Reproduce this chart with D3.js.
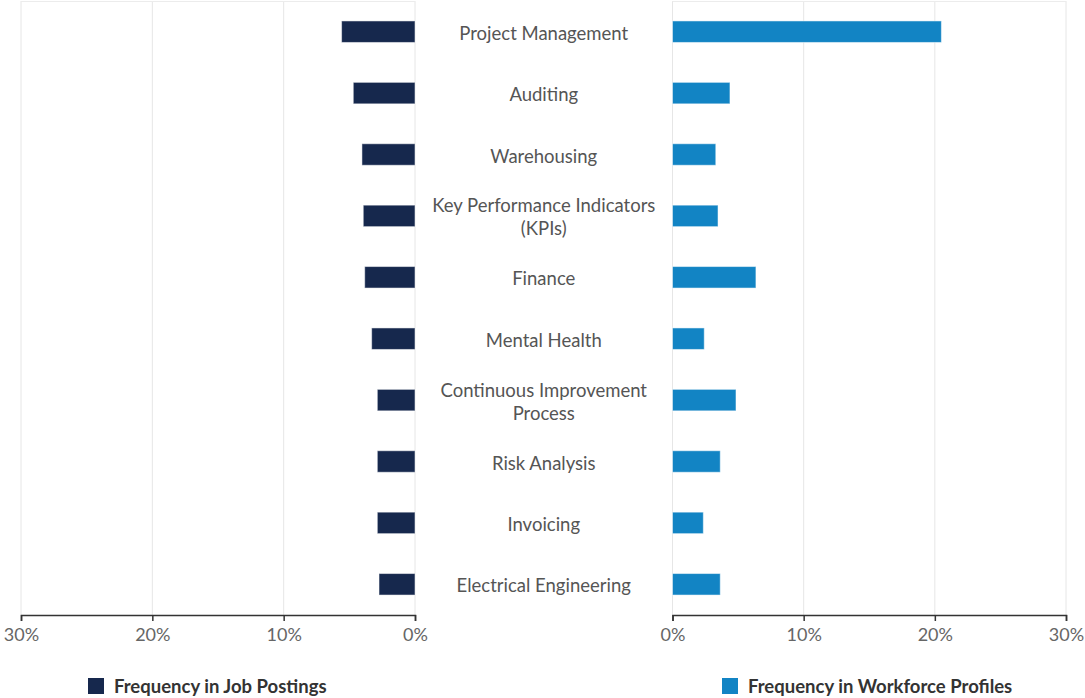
<!DOCTYPE html>
<html>
<head>
<meta charset="utf-8">
<script src="https://cdn.jsdelivr.net/npm/d3@7"></script>
<style>
  body { margin: 0; background: #fff; }
  svg { display: block; font-family: Lato, "Open Sans", sans-serif; }
</style>
</head>
<body>
<div id="chart"></div>
<script>
// skills, top to bottom
const skills = [
  ["Project Management"],
  ["Auditing"],
  ["Warehousing"],
  ["Key Performance Indicators", "(KPIs)"],
  ["Finance"],
  ["Mental Health"],
  ["Continuous Improvement", "Process"],
  ["Risk Analysis"],
  ["Invoicing"],
  ["Electrical Engineering"]
]
// percent values
const jobPostings = [5.59, 4.70, 4.04, 3.94, 3.83, 3.30, 2.87, 2.87, 2.87, 2.74]
const workforceProfiles = [20.5, 4.38, 3.30, 3.47, 6.36, 2.42, 4.84, 3.64, 2.35, 3.64]
const tickValues = [0, 10, 20, 30]
const legendLabels = ["Frequency in Job Postings", "Frequency in Workforce Profiles"]

const width = 1085, height = 698
const navy = "#16284d", blue = "#1284c4"
const plotTop = 1, plotBottom = 615
const leftX = [21, 415], rightX = [672.5, 1066]
const midX = (leftX[1] + rightX[0]) / 2

const svg = d3.select("#chart").append("svg")
  .attr("width", width)
  .attr("height", height)

const y = d3.scaleBand()
  .domain(d3.range(skills.length))
  .range([plotTop, plotBottom])
  .paddingInner(0.65)
  .paddingOuter(0.325)

const xl = d3.scaleLinear().domain([30, 0]).range(leftX)
const xr = d3.scaleLinear().domain([0, 30]).range(rightX)

// grid
function grid(x) {
  svg.append("g").selectAll("line")
    .data(tickValues)
    .join("line")
    .attr("x1", d => x(d)).attr("x2", d => x(d))
    .attr("y1", plotTop).attr("y2", plotBottom)
    .attr("stroke", "#e6e6e6")
  svg.append("line")
    .attr("x1", x.range()[0]).attr("x2", x.range()[1])
    .attr("y1", plotTop + 0.5).attr("y2", plotTop + 0.5)
    .attr("stroke", "#ececec")
}
grid(xl)
grid(xr)

// bars
svg.append("g").selectAll("rect")
  .data(jobPostings)
  .join("rect")
  .attr("x", d => xl(d))
  .attr("y", (d, i) => y(i))
  .attr("width", d => xl(0) - xl(d))
  .attr("height", y.bandwidth())
  .attr("fill", navy)
  .attr("stroke", "rgba(255,255,255,0.5)")
  .attr("stroke-width", 1)

svg.append("g").selectAll("rect")
  .data(workforceProfiles)
  .join("rect")
  .attr("x", xr(0))
  .attr("y", (d, i) => y(i))
  .attr("width", d => xr(d) - xr(0))
  .attr("height", y.bandwidth())
  .attr("fill", blue)
  .attr("stroke", "rgba(255,255,255,0.5)")
  .attr("stroke-width", 1)

// category labels
const lineH = 23
svg.append("g").selectAll("text")
  .data(skills)
  .join("text")
  .attr("x", midX)
  .attr("y", (d, i) => y(i) + y.bandwidth() / 2 + 1 - (d.length - 1) * lineH / 2)
  .attr("text-anchor", "middle")
  .attr("dominant-baseline", "central")
  .attr("fill", "#555")
  .style("font-size", "18.5px")
  .each(function(d) {
    const t = d3.select(this)
    d.forEach((line, k) => {
      t.append("tspan")
        .attr("x", midX)
        .attr("dy", k == 0 ? 0 : lineH)
        .text(line)
    })
  })

// axes
function axis(x) {
  const g = svg.append("g")
    .attr("transform", `translate(0,${plotBottom})`)
    .call(d3.axisBottom(x).tickValues(tickValues).tickFormat(d => d + "%").tickSizeOuter(0).tickSize(6))
  g.select(".domain").attr("stroke", "#333").attr("stroke-width", 1.5)
  g.selectAll(".tick line").attr("stroke", "#333").attr("stroke-width", 1.5)
  g.selectAll(".tick text")
    .attr("fill", "#666")
    .attr("dy", "0.35em")
    .attr("y", 20)
    .style("font-size", "18px")
    .style("font-family", "Lato, sans-serif")
}
axis(xl)
axis(xr)

// legend
const legendX = [88, 722]
legendLabels.forEach((label, i) => {
  const g = svg.append("g").attr("transform", `translate(${legendX[i]},686)`)
  g.append("rect")
    .attr("x", 0).attr("y", -8)
    .attr("width", 16).attr("height", 16)
    .attr("fill", i == 0 ? navy : blue)
  g.append("text")
    .attr("x", 26)
    .attr("dominant-baseline", "central")
    .attr("fill", "#333")
    .style("font-size", "18.5px")
    .style("font-weight", "bold")
    .text(label)
})
</script>
</body>
</html>
